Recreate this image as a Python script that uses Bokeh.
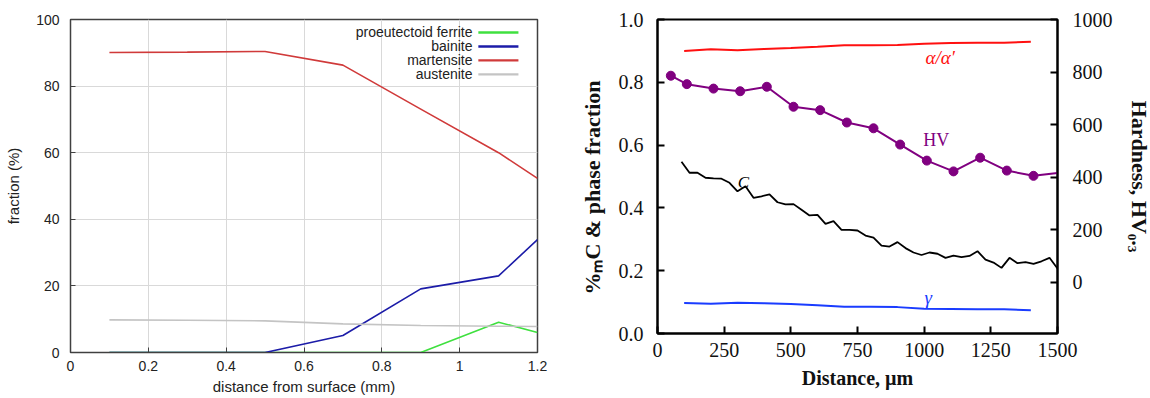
from bokeh.plotting import figure
from bokeh.models import Range1d, LinearAxis, FixedTicker, Label, BoxAnnotation
from bokeh.layouts import row
from bokeh.embed import file_html
from bokeh.resources import INLINE

# ---------------- left panel data ----------------
depth_mm = [0.1, 0.3, 0.5, 0.7, 0.9, 1.1, 1.2]
ferrite = [0, 0, 0, 0, 0, 9.1, 6.0]
bainite = [0, 0, 0, 5.1, 19.1, 23.0, 33.9]
martensite = [90.1, 90.2, 90.4, 86.3, 73.1, 60.0, 52.3]
austenite = [9.8, 9.7, 9.5, 8.6, 8.1, 7.9, 7.8]
left_x_ticks = [0, 0.2, 0.4, 0.6, 0.8, 1.0, 1.2]
left_x_labels = ["0", "0.2", "0.4", "0.6", "0.8", "1", "1.2"]
left_y_ticks = [0, 20, 40, 60, 80, 100]
legend_names = ["proeutectoid ferrite", "bainite", "martensite", "austenite"]
legend_colors = ["#3fe03f", "#1c1ca8", "#d03a3a", "#c4c4c4"]

# ---------------- right panel data ----------------
phase_x = [100, 200, 300, 400, 500, 600, 700, 800, 900, 1000, 1100, 1200, 1300, 1400]
alpha = [0.900, 0.905, 0.902, 0.906, 0.909, 0.913, 0.918, 0.918, 0.919, 0.923, 0.925, 0.926, 0.926, 0.929]
gamma = [0.097, 0.095, 0.098, 0.096, 0.094, 0.090, 0.085, 0.085, 0.084, 0.079, 0.078, 0.077, 0.077, 0.074]
hv_x = [50, 110, 210, 310, 410, 510, 610, 710, 810, 910, 1010, 1110, 1210, 1310, 1410, 1500]
hv = [786, 754, 737, 727, 744, 668, 655, 608, 586, 524, 463, 422, 474, 425, 405, 416]
carbon_x = [90, 120, 150, 180, 210, 240, 270, 300, 330, 360, 390, 420, 450, 480, 510, 540,
            570, 600, 630, 660, 690, 720, 750, 780, 810, 840, 870, 900, 930, 960, 990, 1020,
            1050, 1080, 1110, 1140, 1170, 1200, 1230, 1260, 1290, 1320, 1350, 1380, 1410,
            1440, 1470, 1500]
carbon = [0.547, 0.512, 0.512, 0.496, 0.494, 0.493, 0.480, 0.453, 0.469, 0.432, 0.437, 0.443,
          0.418, 0.411, 0.412, 0.394, 0.376, 0.378, 0.349, 0.358, 0.330, 0.330, 0.328, 0.312,
          0.305, 0.280, 0.277, 0.291, 0.272, 0.258, 0.250, 0.258, 0.254, 0.241, 0.248, 0.243,
          0.247, 0.262, 0.235, 0.226, 0.209, 0.241, 0.224, 0.227, 0.222, 0.230, 0.241, 0.207]
right_x_ticks = [0, 250, 500, 750, 1000, 1250, 1500]
right_y_ticks = [0.0, 0.2, 0.4, 0.6, 0.8, 1.0]
right_y_labels = ["0.0", "0.2", "0.4", "0.6", "0.8", "1.0"]
hv_ticks = [0, 200, 400, 600, 800, 1000]

SANS = "Liberation Sans"
SERIF = "Liberation Serif"

# ================= left figure =================
p1 = figure(frame_width=467, frame_height=333, output_backend="svg", toolbar_location=None,
            x_range=Range1d(0, 1.2), y_range=Range1d(0, 100),
            min_border_left=70, min_border_right=34, min_border_top=17, min_border_bottom=48)
p1.outline_line_color = "#404040"
p1.outline_line_width = 1.5
for g in (p1.xgrid[0], p1.ygrid[0]):
    g.grid_line_color = "#d9d9d9"
    g.grid_line_width = 1
p1.xaxis.ticker = FixedTicker(ticks=left_x_ticks)
p1.yaxis.ticker = FixedTicker(ticks=left_y_ticks)
p1.xgrid.ticker = FixedTicker(ticks=left_x_ticks)
p1.ygrid.ticker = FixedTicker(ticks=left_y_ticks)
p1.xaxis.major_label_overrides = {t: l for t, l in zip(left_x_ticks, left_x_labels)}
for ax in (p1.xaxis[0], p1.yaxis[0]):
    ax.axis_line_color = "#404040"
    ax.major_tick_line_color = "#404040"
    ax.major_tick_in = 5
    ax.major_tick_out = 0
    ax.minor_tick_line_color = None
    ax.major_label_text_font = SANS
    ax.major_label_text_font_size = "14px"
    ax.major_label_text_color = "#222222"
    ax.axis_label_text_font = SANS
    ax.axis_label_text_font_size = "15px"
    ax.axis_label_text_font_style = "normal"
    ax.axis_label_text_color = "#222222"
p1.xaxis.axis_label = "distance from surface (mm)"
p1.yaxis.axis_label = "fraction (%)"
p1.xaxis.major_label_standoff = 8
p1.xaxis.axis_label_standoff = 4
p1.yaxis.major_label_standoff = 11
p1.yaxis.axis_label_standoff = 11

series = [ferrite, bainite, martensite, austenite]
for ys, c in zip(series, legend_colors):
    p1.line(depth_mm, ys, line_color=c, line_width=1.6)

leg_y = [96.1, 91.9, 87.7, 83.5]
for name, c, yy in zip(legend_names, legend_colors, leg_y):
    p1.add_layout(Label(x=1.033, y=yy, text=name, text_align="right", text_baseline="middle",
                        text_font=SANS, text_font_size="14px", text_color="#222222"))
    p1.add_layout(BoxAnnotation(left=1.048, right=1.151, bottom=yy - 0.35, top=yy + 0.35,
                                fill_color=c, fill_alpha=1.0, line_color=None))

# ================= right figure =================
p2 = figure(frame_width=400, frame_height=314, output_backend="svg", toolbar_location=None,
            x_range=Range1d(0, 1500), y_range=Range1d(0, 1.0),
            min_border_left=86, min_border_right=93, min_border_top=19, min_border_bottom=65)
p2.extra_y_ranges = {"hv": Range1d(-195, 1000)}
p2.xgrid.visible = False
p2.ygrid.visible = False
p2.outline_line_color = "black"
p2.outline_line_width = 2
p2.xaxis.ticker = FixedTicker(ticks=right_x_ticks)
p2.yaxis.ticker = FixedTicker(ticks=right_y_ticks)
p2.yaxis.major_label_overrides = {t: l for t, l in zip(right_y_ticks, right_y_labels)}
hv_axis = LinearAxis(y_range_name="hv", ticker=FixedTicker(ticks=hv_ticks))
p2.add_layout(hv_axis, "right")
for ax in (p2.xaxis[0], p2.yaxis[0], hv_axis):
    ax.axis_line_color = "black"
    ax.axis_line_width = 2
    ax.major_tick_line_color = "black"
    ax.major_tick_line_width = 2
    ax.major_tick_in = 7
    ax.major_tick_out = 0
    ax.minor_tick_line_color = None
    ax.major_label_text_font = SERIF
    ax.major_label_text_font_size = "20px"
    ax.major_label_text_color = "#111111"
    ax.axis_label_text_font = SERIF
    ax.axis_label_text_font_size = "20px"
    ax.axis_label_text_font_style = "bold"
    ax.axis_label_text_color = "#111111"
p2.xaxis.major_label_standoff = 9
p2.yaxis.major_label_standoff = 14
hv_axis.major_label_standoff = 15
p2.xaxis.axis_label = "Distance, µm"
p2.xaxis.axis_label_standoff = 7
p2.yaxis.axis_label = "%ₘC & phase fraction" + "\u00a0" * 4
p2.yaxis.axis_label_text_font_size = "22px"
p2.yaxis.axis_label_standoff = 11
hv_axis.axis_label = "Hardness, HV₀.₃"
hv_axis.axis_label_standoff = 11

p2.line(phase_x, alpha, line_color="#ff1010", line_width=2)
p2.line(phase_x, gamma, line_color="#1a3cff", line_width=2)
p2.line(carbon_x, carbon, line_color="black", line_width=1.8)
p2.line(hv_x, hv, y_range_name="hv", line_color="#800080", line_width=2)
p2.scatter(hv_x[:-1], hv[:-1], y_range_name="hv", size=9, fill_color="#800080",
           line_color="#800080", marker="circle")

p2.add_layout(Label(x=1060, y=0.88, text="α/α′", text_align="center", text_baseline="middle",
                    text_font=SERIF, text_font_size="19px", text_font_style="italic",
                    text_color="#ff1010"))
p2.add_layout(Label(x=1045, y=0.615, text="HV", text_align="center", text_baseline="middle",
                    text_font=SERIF, text_font_size="18px", text_color="#800080"))
p2.add_layout(Label(x=322, y=0.482, text="C", text_align="center", text_baseline="middle",
                    text_font=SERIF, text_font_size="17px", text_font_style="italic",
                    text_color="black"))
p2.add_layout(Label(x=1015, y=0.115, text="γ", text_align="center", text_baseline="middle",
                    text_font=SERIF, text_font_size="19px", text_font_style="italic",
                    text_color="#1a3cff"))

layout = row(p1, p2)
open("out.html", "w").write(file_html(layout, INLINE))
